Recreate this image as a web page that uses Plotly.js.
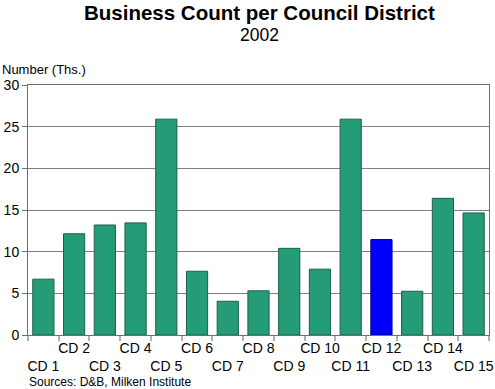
<!DOCTYPE html>
<html><head><meta charset="utf-8">
<script src="https://cdn.plot.ly/plotly-3.0.1.min.js"></script>
<style>html,body{margin:0;padding:0;background:#fff}#chart{width:495px;height:389px}</style>
</head><body><div id="chart"></div>
<script>
var categories = ["CD 1","CD 2","CD 3","CD 4","CD 5","CD 6","CD 7","CD 8","CD 9","CD 10","CD 11","CD 12","CD 13","CD 14","CD 15"];
var values = [6.7, 12.15, 13.2, 13.45, 25.9, 7.65, 4.05, 5.3, 10.4, 7.9, 25.9, 11.45, 5.25, 16.4, 14.65];
var highlight = "CD 12";
var yTicks = [0, 5, 10, 15, 20, 25, 30];
var titleText = "Business Count per Council District";
var subtitleText = "2002";
var yTitleText = "Number (Ths.)";
var sourceText = "Sources: D&B, Milken Institute";

var colors = categories.map(function(c){ return c === highlight ? "#0000FF" : "#259C78"; });
var lineColors = categories.map(function(c){ return c === highlight ? "#00007A" : "#1E5E48"; });
var tickText = categories.map(function(c, i){ return i % 2 === 0 ? "<br>" + c : c; });

var trace = {
  type: "bar", x: categories, y: values,
  marker: {color: colors, line: {color: lineColors, width: 1}},
  hoverinfo: "x+y"
};
var layout = {
  width: 495, height: 389,
  margin: {l: 28, r: 6, t: 85, b: 54, pad: 0},
  paper_bgcolor: "#fff", plot_bgcolor: "#fff",
  font: {family: "Liberation Sans, Arial, sans-serif", color: "#000", size: 13},
  bargap: 0.31,
  showlegend: false,
  xaxis: {
    type: "category", tickmode: "array", tickvals: categories, ticktext: tickText,
    tickson: "boundaries", ticks: "outside", ticklen: 5, tickcolor: "#b0b0b0", tickwidth: 2,
    showline: true, linecolor: "#707070", linewidth: 1, mirror: true,
    showgrid: false, tickangle: 0, tickfont: {size: 14}, fixedrange: true
  },
  yaxis: {
    range: [0, 30], tickmode: "array", tickvals: yTicks, ticks: "outside", ticklen: 5,
    tickcolor: "#707070", showline: true, linecolor: "#707070", linewidth: 1, mirror: true,
    showgrid: true, gridcolor: "#808080", gridwidth: 1, zeroline: false,
    tickfont: {size: 14}, fixedrange: true
  },
  annotations: [
    {text: "<span style='font-size:20.5px'><b>" + titleText + "</b></span><br><span style='font-size:17.5px'>" + subtitleText + "</span>",
     xref: "paper", yref: "paper", x: 0.502, y: 1.25, xanchor: "center", yanchor: "middle", showarrow: false, font: {size: 16}},
    {text: yTitleText, xref: "paper", yref: "paper", x: -0.06, y: 1.06, xanchor: "left", yanchor: "middle", showarrow: false, font: {size: 13}},
    {text: sourceText, xref: "paper", yref: "paper", x: -0.003, y: -0.188, xanchor: "left", yanchor: "middle", showarrow: false, font: {size: 12}}
  ]
};
Plotly.newPlot("chart", [trace], layout, {displayModeBar: false, staticPlot: true});
</script></body></html>
